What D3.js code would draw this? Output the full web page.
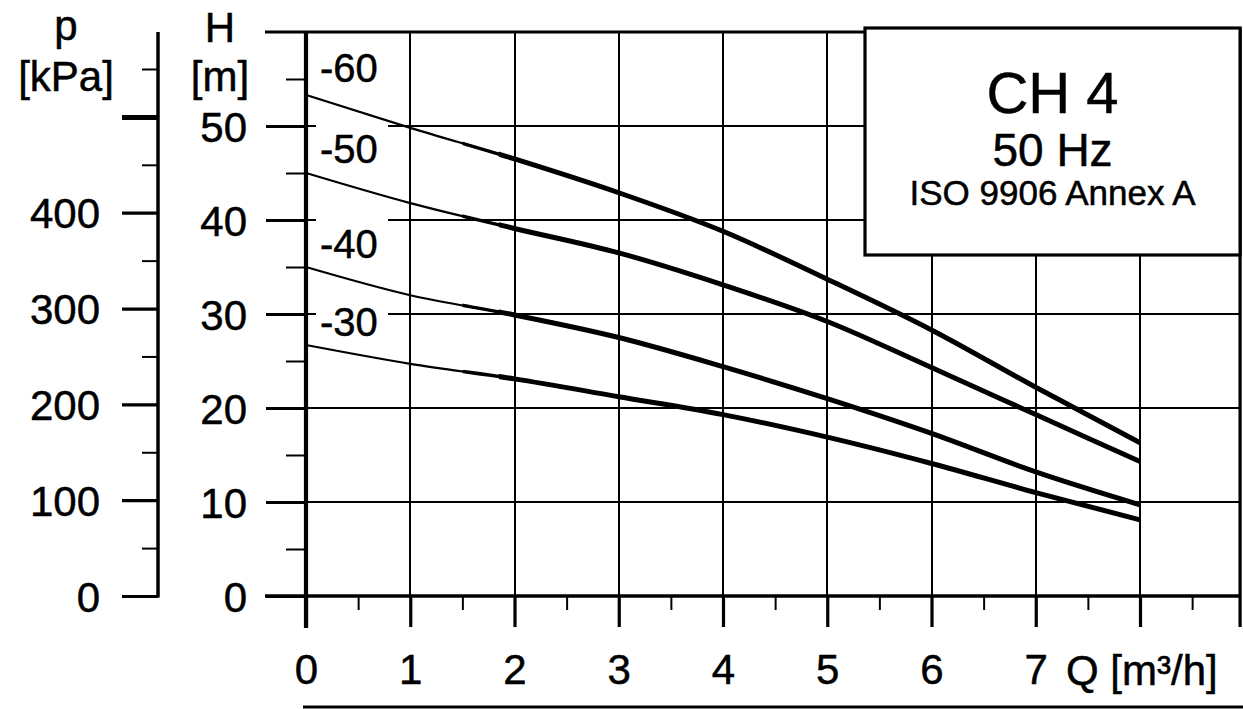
<!DOCTYPE html>
<html>
<head>
<meta charset="utf-8">
<script src="https://cdn.jsdelivr.net/npm/d3@7/dist/d3.min.js"></script>
<style>
  html, body { margin: 0; padding: 0; background: #fff; }
  svg { display: block; }
  text { font-family: "Liberation Sans", Arial, Helvetica, sans-serif; fill: #000; stroke: #000; stroke-width: 0.5px; }
</style>
</head>
<body>
<svg id="chart" width="1243" height="709"></svg>
<script>
// Flow rate Q [m³/h] at which the head of each stage is read
const flow = [0, 1, 2, 3, 4, 5, 6, 7, 8];

// Head H [m] per pump variant
const head60 = [53.3, 49.8, 46.5, 42.9, 38.8, 33.7, 28.3, 22.2, 16.3];
const head50 = [45.0, 41.8, 39.1, 36.5, 33.1, 29.2, 24.3, 19.3, 14.3];
const head40 = [35.0, 32.0, 29.9, 27.5, 24.4, 21.0, 17.3, 13.2, 9.7];
const head30 = [26.7, 24.7, 23.1, 21.2, 19.3, 16.9, 14.1, 11.0, 8.1];

const curveNames = ["-60", "-50", "-40", "-30"];
const curveHeads = [head60, head50, head40, head30];
// Label baselines, in metres of head on the H scale
const labelHeads = [54.7, 46.1, 36.0, 27.7];

// Axis tick values
const flowTicks = [0, 1, 2, 3, 4, 5, 6, 7, 8];
const flowLabels = ["0", "1", "2", "3", "4", "5", "6", "7", ""];
const flowMinor = [0.5, 1.5, 2.5, 3.5, 4.5, 5.5, 6.5, 7.5, 8.5];
const headTicks = [0, 10, 20, 30, 40, 50];
const headMinor = [5, 15, 25, 35, 45, 55];
const pressTicks = [0, 100, 200, 300, 400, 500];
const pressMinor = [50, 150, 250, 350, 450, 550];

const titleLines = ["CH 4", "50 Hz", "ISO 9906 Annex A"];

const Q_MAX = 8.96;     // right frame edge on the Q scale
const H_MAX = 60;       // top frame edge on the H scale
const KPA_PER_M = 9.81; // water: 1 m head = 9.81 kPa

const svg = d3.select("#chart");
const FONT = 42;

const x = d3.scaleLinear().domain([0, 8]).range([306, 1140]);
const y = d3.scaleLinear().domain([0, H_MAX]).range([596, 32]);
const p = d3.scaleLinear().domain([0, H_MAX * KPA_PER_M]).range([596, 32]);

const xL = x(0), xR = x(Q_MAX), yB = y(0), yT = y(H_MAX);

// ---- grid ----
const grid = svg.append("g").attr("stroke", "#000").attr("stroke-width", 2)
  .attr("shape-rendering", "crispEdges");
grid.selectAll("line.v").data(flowTicks.filter(d => d > 0)).join("line")
  .attr("x1", d => x(d)).attr("x2", d => x(d))
  .attr("y1", yB).attr("y2", yT);
grid.selectAll("line.h").data(headTicks.filter(d => d > 0)).join("line")
  .attr("x1", xL).attr("x2", xR)
  .attr("y1", d => y(d)).attr("y2", d => y(d));

// ---- H axis (left of plot) ----
const hAxis = svg.append("g").attr("transform", `translate(${xL},0)`)
  .call(d3.axisLeft(y).tickValues(headTicks).tickSizeInner(40).tickSizeOuter(0).tickPadding(19));
hAxis.select(".domain").remove();
hAxis.selectAll(".tick line").attr("stroke-width", 3.2);
hAxis.selectAll(".tick text").attr("font-size", FONT).attr("dy", "0.36em");

const hMinor = svg.append("g").attr("transform", `translate(${xL},0)`)
  .call(d3.axisLeft(y).tickValues(headMinor).tickSize(20).tickFormat(""));
hMinor.select(".domain").remove();
hMinor.selectAll(".tick line").attr("stroke-width", 2);

// ---- p axis (far left) ----
const pX = 158;
const pAxis = svg.append("g").attr("transform", `translate(${pX},0)`)
  .call(d3.axisLeft(p).tickValues(pressTicks).tickSizeInner(36).tickSizeOuter(0).tickPadding(22)
    .tickFormat(d => d === 500 ? "" : d));
pAxis.select(".domain").remove();
pAxis.selectAll(".tick line").attr("stroke-width", d => d === 500 ? 5 : 3.2);
pAxis.selectAll(".tick text").attr("font-size", FONT).attr("dy", "0.36em");

const pMinor = svg.append("g").attr("transform", `translate(${pX},0)`)
  .call(d3.axisLeft(p).tickValues(pressMinor).tickSize(16).tickFormat(""));
pMinor.select(".domain").remove();
pMinor.selectAll(".tick line").attr("stroke-width", 2);

svg.append("line").attr("x1", pX).attr("x2", pX)
  .attr("y1", yT).attr("y2", p(0) + 1.5)
  .attr("stroke", "#000").attr("stroke-width", 3.5);

// ---- Q axis (bottom) ----
const qAxis = svg.append("g").attr("transform", `translate(0,${yB})`)
  .call(d3.axisBottom(x).tickValues(flowTicks).tickSizeInner(31).tickSizeOuter(0).tickPadding(27)
    .tickFormat((d, i) => flowLabels[i]));
qAxis.select(".domain").remove();
qAxis.selectAll(".tick line").attr("stroke-width", 3.2);
qAxis.selectAll(".tick text").attr("font-size", FONT);

const qMinor = svg.append("g").attr("transform", `translate(0,${yB})`)
  .call(d3.axisBottom(x).tickValues(flowMinor).tickSize(14).tickFormat(""));
qMinor.select(".domain").remove();
qMinor.selectAll(".tick line").attr("stroke-width", 2);

svg.append("text").attr("x", 1066).attr("y", 685)
  .attr("font-size", FONT).text("Q [m³/h]");

// ---- frame ----
const frame = svg.append("g").attr("stroke", "#000").attr("fill", "none");
frame.append("line").attr("x1", 265).attr("x2", xR).attr("y1", yT).attr("y2", yT).attr("stroke-width", 3.2);
frame.append("line").attr("x1", 265).attr("x2", xR).attr("y1", yB).attr("y2", yB).attr("stroke-width", 3.6);
frame.append("line").attr("x1", xL).attr("x2", xL).attr("y1", yT).attr("y2", yB + 32).attr("stroke-width", 4.2);
frame.append("line").attr("x1", xR).attr("x2", xR).attr("y1", 28).attr("y2", yB + 31).attr("stroke-width", 3.2);
// edge of the next sheet along the bottom
frame.append("line").attr("x1", 303).attr("x2", 1243).attr("y1", 707).attr("y2", 707).attr("stroke-width", 3);

// ---- axis titles ----
svg.append("text").attr("x", 66).attr("y", 40).attr("text-anchor", "middle").attr("font-size", FONT).text("p");
svg.append("text").attr("x", 66).attr("y", 91).attr("text-anchor", "middle").attr("font-size", FONT).text("[kPa]");
svg.append("text").attr("x", 220).attr("y", 42).attr("text-anchor", "middle").attr("font-size", FONT).text("H");
svg.append("text").attr("x", 220).attr("y", 91).attr("text-anchor", "middle").attr("font-size", FONT).text("[m]");

// ---- title box ----
svg.append("rect").attr("x", 865).attr("y", 28).attr("width", xR - 865).attr("height", 227)
  .attr("fill", "#fff").attr("stroke", "#000").attr("stroke-width", 3.2);
const boxMid = (865 + xR) / 2;
svg.append("text").attr("x", boxMid).attr("y", 113).attr("text-anchor", "middle").attr("font-size", 58).text(titleLines[0]);
svg.append("text").attr("x", boxMid).attr("y", 166).attr("text-anchor", "middle").attr("font-size", 46).text(titleLines[1]);
svg.append("text").attr("x", boxMid).attr("y", 205).attr("text-anchor", "middle").attr("font-size", 35).text(titleLines[2]);

// ---- curve labels (white backing knocks out the grid) ----
const labels = svg.append("g");
labels.selectAll("rect").data(labelHeads).join("rect")
  .attr("x", 316).attr("width", 72)
  .attr("y", d => y(d) - 40).attr("height", 43)
  .attr("fill", "#fff");

// ---- performance curves: thin overall, heavier over the operating range ----
const line = d3.line()
  .x((d, i) => x(flow[i]))
  .y(d => y(d))
  .curve(d3.curveMonotoneX);

const defs = svg.append("defs");
defs.append("clipPath").attr("id", "midRange")
  .append("rect").attr("x", x(1.5)).attr("y", 0).attr("width", 1243).attr("height", 709);
defs.append("clipPath").attr("id", "opRange")
  .append("rect").attr("x", x(1.85)).attr("y", 0).attr("width", 1243).attr("height", 709);

const curves = svg.append("g").attr("fill", "none").attr("stroke", "#000");
curves.selectAll("path.thin").data(curveHeads).join("path")
  .attr("class", "thin").attr("d", line).attr("stroke-width", 2.2);
curves.selectAll("path.mid").data(curveHeads).join("path")
  .attr("class", "mid").attr("d", line).attr("stroke-width", 3.4)
  .attr("clip-path", "url(#midRange)");
curves.selectAll("path.thick").data(curveHeads).join("path")
  .attr("class", "thick").attr("d", line).attr("stroke-width", 5)
  .attr("clip-path", "url(#opRange)");

labels.selectAll("text").data(curveNames).join("text")
  .attr("x", 320).attr("y", (d, i) => y(labelHeads[i]))
  .attr("font-size", 40).text(d => d);
</script>
</body>
</html>
